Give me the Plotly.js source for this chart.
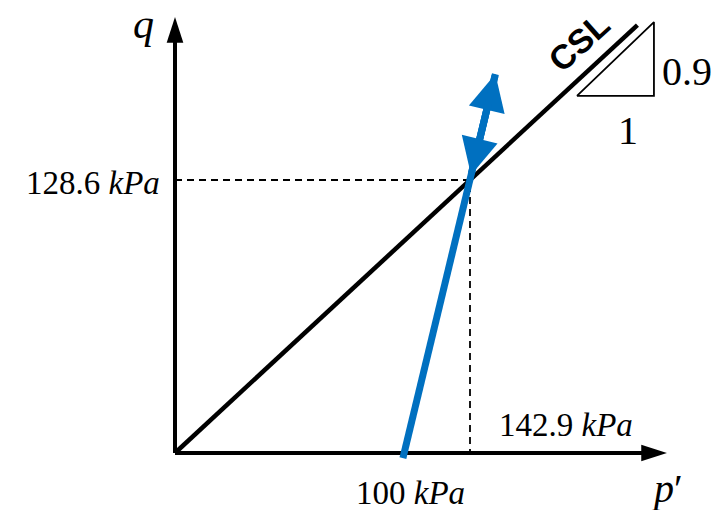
<!DOCTYPE html>
<html>
<head>
<meta charset="utf-8">
<script src="https://cdn.plot.ly/plotly-3.0.1.min.js"></script>
<style>html,body{margin:0;padding:0;background:#fff;}#chart{width:722px;height:510px;}</style>
</head>
<body>
<div id="chart"></div>
<script>
// ---- data (kPa) ----
const cslP = [0, 224];
const cslQ = [0, 201.6];
const guideP = [0, 142.9, 142.9];
const guideQ = [128.6, 128.6, 0];
const stressPathP = [110.4, 155.2];
const stressPathQ = [-2.4, 178.5];
const pointOnCslP = 143.4;
const pointOnCslQ = 131.0;
const qAxisP = [0, 0];
const qAxisQ = [0, 205.4];
const pAxisP = [0, 238.3];
const pAxisQ = [0, 0];
const slopeTriP = [194.7, 232.0, 232.0, 194.7];
const slopeTriQ = [168.2, 168.2, 203.0, 168.2];
const qLabel = '128.6 <i>kPa</i>';
const pLabel = '142.9 <i>kPa</i>';
const p0Label = '100 <i>kPa</i>';

const serif = '"Liberation Serif", "DejaVu Serif", serif';
const black = '#000000';
const blue = '#0070C0';

const arrowMarker = {symbol: ['circle', 'arrow'], size: [0, 27], color: black, opacity: 1,
  line: {width: 0, color: black}, angleref: 'previous'};

const traces = [
  {x: guideP, y: guideQ, mode: 'lines', line: {color: black, width: 1.8, dash: '7px,5px'}},
  {x: qAxisP, y: qAxisQ, mode: 'lines+markers', line: {color: black, width: 4}, marker: arrowMarker},
  {x: pAxisP, y: pAxisQ, mode: 'lines+markers', line: {color: black, width: 4}, marker: arrowMarker},
  {x: cslP, y: cslQ, mode: 'lines', line: {color: black, width: 4.5}},
  {x: slopeTriP, y: slopeTriQ, mode: 'lines', line: {color: black, width: 1.8}},
  {x: stressPathP, y: stressPathQ, mode: 'lines', line: {color: blue, width: 7}}
];

function txt(x, y, text, size, xanchor, extra) {
  return Object.assign({x: x, y: y, xref: 'x', yref: 'y', text: text, showarrow: false,
    xanchor: xanchor || 'center', yanchor: 'middle',
    font: {family: serif, size: size, color: black}}, extra || {});
}

const annotations = [
  // arrowheads of the stress path
  {x: stressPathP[1], y: stressPathQ[1], ax: pointOnCslP, ay: pointOnCslQ, xref: 'x', yref: 'y',
   axref: 'x', ayref: 'y', text: '', showarrow: true, arrowhead: 2, arrowsize: 1.05,
   arrowwidth: 7, arrowcolor: blue},
  {x: pointOnCslP, y: pointOnCslQ, ax: stressPathP[1], ay: stressPathQ[1], xref: 'x', yref: 'y',
   axref: 'x', ayref: 'y', text: '', showarrow: true, arrowhead: 2, arrowsize: 1.05,
   arrowwidth: 7, arrowcolor: blue},
  txt(-6.3, 127.2, qLabel, 33, 'right'),
  txt(156, 13.2, pLabel, 33, 'left'),
  txt(114.3, -18.8, p0Label, 33, 'center'),
  txt(-15.5, 202.1, '<i>q</i>', 42, 'center'),
  txt(238.5, -16.5, '<i>p</i>′', 40, 'center'),
  txt(235, 179.5, '0.9', 40, 'left'),
  txt(219.4, 152.1, '1', 40, 'center'),
  txt(195.7, 193.6, '<b>CSL</b>', 34, 'center', {textangle: -42,
    font: {family: '"Liberation Sans", Arial, sans-serif', size: 34, color: black}})
];

const layout = {
  width: 722, height: 510,
  margin: {l: 0, r: 0, t: 0, b: 0, pad: 0},
  paper_bgcolor: '#ffffff', plot_bgcolor: '#ffffff',
  showlegend: false,
  xaxis: {range: [-84.77, 264.97], visible: false, fixedrange: true},
  yaxis: {range: [-26.85, 213.39], visible: false, fixedrange: true},
  annotations: annotations
};

Plotly.newPlot('chart', traces, layout, {displayModeBar: false, staticPlot: true});
</script>
</body>
</html>
